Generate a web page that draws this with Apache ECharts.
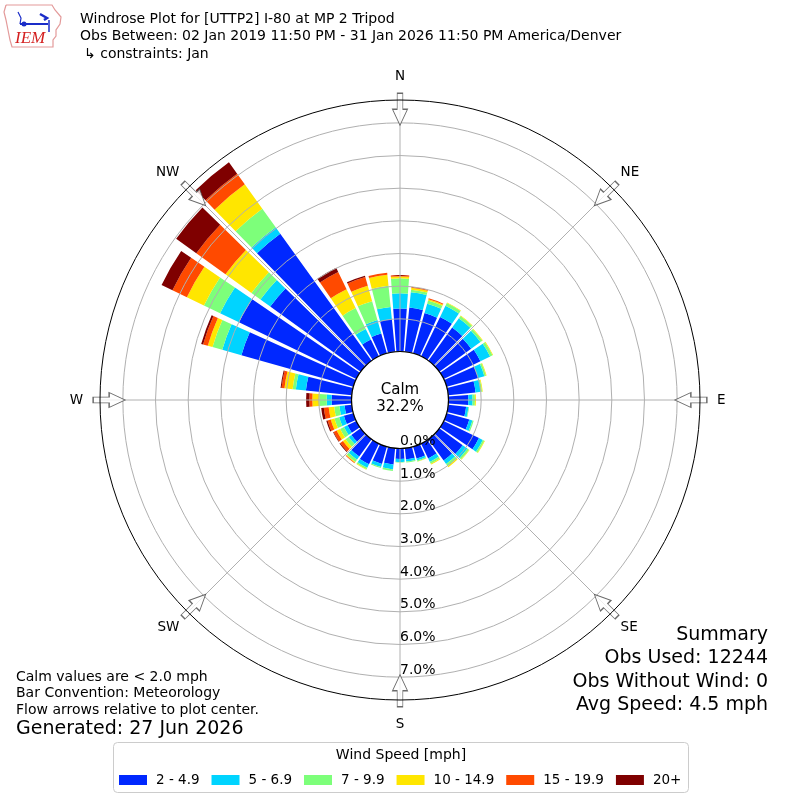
<!DOCTYPE html>
<html><head><meta charset="utf-8">
<script src="https://cdn.jsdelivr.net/npm/echarts@6/dist/echarts.min.js"></script>
<style>html,body{margin:0;padding:0;background:#fff}#c{width:800px;height:800px}</style>
</head><body><div id="c"></div>
<script>
// ---- data (percent of observations) ----
const directions = [0,10,20,30,40,50,60,70,80,90,100,110,120,130,140,150,160,170,180,190,200,210,220,230,240,250,260,270,280,290,300,310,320,330,340,350];
const speedBins = ['2 - 4.9','5 - 6.9','7 - 9.9','10 - 14.9','15 - 19.9','20+'];
const binColors = ['#0028ff','#00d4ff','#7dff7a','#ffe600','#ff4a00','#7f0000'];
const speed2to4_9   = [1.32,1.36,1.28,1.34,1.25,1.20,1.25,1.00,0.84,0.61,0.55,0.72,1.20,0.88,0.80,0.50,0.38,0.34,0.32,0.50,0.55,0.70,0.65,0.35,0.30,0.30,0.22,0.61,1.41,3.56,3.99,3.41,4.79,0.57,0.63,1.00];
const speed5to6_9   = [0.46,0.47,0.30,0.38,0.35,0.35,0.33,0.20,0.16,0.13,0.07,0.10,0.13,0.18,0.13,0.12,0.06,0.07,0.09,0.15,0.10,0.12,0.12,0.10,0.12,0.15,0.16,0.15,0.31,0.61,0.64,0.37,0.24,0.36,0.43,0.38];
const speed7to9_9   = [0.46,0.08,0.10,0.09,0.08,0.07,0.08,0.05,0.04,0.07,0.02,0.04,0.05,0.06,0.08,0.06,0.03,0.03,0.02,0.05,0.03,0.05,0.08,0.12,0.13,0.15,0.16,0.23,0.10,0.31,0.55,0.34,0.70,0.71,0.60,0.65];
const speed10to14_9 = [0.06,0.06,0.04,0.02,0.02,0.02,0.02,0.02,0.02,0.03,0.00,0.00,0.02,0.02,0.04,0.03,0.01,0.00,0.00,0.00,0.00,0.02,0.03,0.10,0.12,0.12,0.17,0.21,0.25,0.15,0.58,0.98,0.92,0.64,0.49,0.34];
const speed15to19_9 = [0.04,0.03,0.03,0.00,0.00,0.00,0.00,0.00,0.00,0.00,0.00,0.00,0.00,0.00,0.00,0.00,0.00,0.00,0.00,0.00,0.00,0.00,0.02,0.10,0.10,0.10,0.15,0.09,0.09,0.15,0.49,1.10,0.40,0.59,0.28,0.06];
const speed20plus   = [0.00,0.00,0.00,0.00,0.00,0.00,0.00,0.00,0.00,0.00,0.00,0.00,0.00,0.00,0.00,0.00,0.00,0.00,0.00,0.00,0.00,0.00,0.00,0.03,0.02,0.04,0.08,0.10,0.03,0.06,0.37,0.76,0.43,0.14,0.04,0.00];
const binValues = [speed2to4_9, speed5to6_9, speed7to9_9, speed10to14_9, speed15to19_9, speed20plus];
const compassNames = ['N','NE','E','SE','S','SW','W','NW'];
const compassDegrees = [0,45,90,135,180,225,270,315];
const radiusMax = 7.7;
const radiusTicks = [0,1,2,3,4,5,6,7];
const calmPercent = '32.2%';
const titleLines = ['Windrose Plot for [UTTP2] I-80 at MP 2 Tripod','Obs Between: 02 Jan 2019 11:50 PM - 31 Jan 2026 11:50 PM America/Denver','\u21b3 constraints: Jan'];
const footLeft = ['Calm values are < 2.0 mph','Bar Convention: Meteorology','Flow arrows relative to plot center.'];
const generated = 'Generated: 27 Jun 2026';
const summaryLines = ['Summary','Obs Used: 12244','Obs Without Wind: 0','Avg Speed: 4.5 mph'];

const FONT = 'DejaVu Sans';
const chart = echarts.init(document.getElementById('c'), null, {renderer:'canvas'});

const polarBase = {center:[400,400], radius:[48.5,300]};
const barSeries = speedBins.map((name,i)=>({
  name, type:'bar', coordinateSystem:'polar', polarIndex:0, stack:'rose',
  data: binValues[i], barCategoryGap:'15%',
  itemStyle:{color:binColors[i]}, z:2, silent:true
}));

const arrowPath = 'path://M8,32 L0,16 L5,16 L5,0 L11,0 L11,16 L16,16 Z';
const arrowSeries = {
  type:'scatter', coordinateSystem:'polar', polarIndex:1, z:8, silent:true,
  symbol: arrowPath, symbolSize:[15,32],
  itemStyle:{color:'#ffffff', borderColor:'#444', borderWidth:1},
  data: compassDegrees.map(d=>({value:[7.42,(d+180)%360], symbolRotate:-d}))
};

function txt(text,x,y,size,align,extra){
  return Object.assign({type:'text', z:20, style:{text, x, y, font:size+'px "'+FONT+'"', fill:'#000', textAlign:align||'left', textVerticalAlign:'middle'}}, extra||{});
}
const graphics = [];
titleLines.forEach((t,i)=>graphics.push(txt(t, i===2?84:80, 19+i*17.5, 14)));
footLeft.forEach((t,i)=>graphics.push(txt(t, 16, 677+i*16.5, 14)));
graphics.push(txt(generated,16,729,19));
summaryLines.forEach((t,i)=>graphics.push(txt(t, 768, 635+i*23.5, 19, 'right')));
graphics.push(txt('Calm',400,390,15,'center'));
graphics.push(txt(calmPercent,400,407,15,'center'));
// legend box
graphics.push({type:'rect', z:1, shape:{x:113.5,y:742.5,width:575,height:50,r:4}, style:{fill:'#fff',stroke:'#cccccc',lineWidth:1}});
graphics.push(txt('Wind Speed [mph]',401,755,14,'center'));
// logo
graphics.push({type:'polyline', z:5, shape:{points:[[6,5],[52,5],[55,10],[61,17],[60,24],[56,30],[56,36],[53,40],[53,47],[12,47],[10,40],[8,30],[6,20],[4,12],[6,5]]}, style:{stroke:'#e39a9a',lineWidth:1.2,fill:null}});
graphics.push({type:'polyline', z:6, shape:{points:[[20,24],[48,24]]}, style:{stroke:'#1a2cc8',lineWidth:2}});
graphics.push({type:'polyline', z:6, shape:{points:[[18,12],[21,18],[20,24]]}, style:{stroke:'#1a2cc8',lineWidth:1.2}});
graphics.push({type:'polyline', z:6, shape:{points:[[40,14],[47,18],[44,20]]}, style:{stroke:'#1a2cc8',lineWidth:2.5}});
graphics.push({type:'polyline', z:6, shape:{points:[[49,20],[49,32]]}, style:{stroke:'#1a2cc8',lineWidth:1.5}});
graphics.push({type:'circle', z:6, shape:{cx:24,cy:24,r:2.5}, style:{fill:'#1a2cc8'}});
graphics.push({type:'text', z:6, style:{text:'IEM', x:15, y:39, font:'italic 17px "Liberation Serif"', fill:'#d42020', textVerticalAlign:'middle'}});

const compassLabel = (v, wantDiagonal) => {
  if (v >= 360) return '';
  const d = (v + 180) % 360;
  const isDiag = d % 90 !== 0;
  return isDiag === wantDiagonal ? compassNames[d / 45] : '';
};

const option = {
  backgroundColor:'#fff',
  animation:false,
  polar:[polarBase, polarBase, {center:[400,400], radius:[0,48.5]}, {center:[400,400], radius:[0,300]}],
  angleAxis:[
    {polarIndex:0, type:'category', data:directions, startAngle:95, clockwise:true, boundaryGap:true,
     axisLine:{show:false}, axisTick:{show:false}, axisLabel:{show:false}, splitLine:{show:false}},
    {polarIndex:1, type:'value', min:0, max:360, interval:45, startAngle:-90, clockwise:true, z:4,
     axisLine:{show:false}, axisTick:{show:false},
     axisLabel:{show:true, margin:17, fontSize:13.5, fontFamily:FONT, color:'#000',
       formatter:v=> compassLabel(v,false)},
     splitLine:{show:true, lineStyle:{color:'#b0b0b0', width:1}}},
    {polarIndex:2, type:'value', min:0, max:360, z:9,
     axisLine:{show:true, lineStyle:{color:'#000', width:1.2}}, axisTick:{show:false}, axisLabel:{show:false}, splitLine:{show:false}},
    {polarIndex:3, type:'value', min:0, max:360, interval:45, startAngle:-90, clockwise:true, z:9,
     axisLine:{show:true, lineStyle:{color:'#000', width:1}}, axisTick:{show:false},
     axisLabel:{show:true, margin:12, fontSize:13.5, fontFamily:FONT, color:'#000',
       formatter:v=> compassLabel(v,true)},
     splitLine:{show:false}}
  ],
  radiusAxis:[
    {polarIndex:0, type:'value', min:0, max:radiusMax, show:false},
    {polarIndex:1, type:'value', min:0, max:radiusMax, interval:1, z:7,
     axisLine:{show:false}, axisTick:{show:false},
     axisLabel:{show:true, fontSize:14, fontFamily:FONT, color:'#000', margin:0, align:'left', verticalAlign:'bottom',
       formatter:v=> radiusTicks.indexOf(v)>=0 ? v.toFixed(1)+'%' : ''},
     splitLine:{show:true, lineStyle:{color:['#b0b0b0','#b0b0b0','#b0b0b0','#b0b0b0','#b0b0b0','#b0b0b0','#b0b0b0','#b0b0b0','rgba(0,0,0,0)'], width:1}}},
    {polarIndex:2, type:'value', min:0, max:1, show:false},
    {polarIndex:3, type:'value', min:0, max:1, show:false}
  ],
  legend:{
    data:speedBins, left:114, top:768, padding:[5,5,5,5], itemWidth:28, itemHeight:10, itemGap:12, icon:'rect',
    textStyle:{fontSize:13.5, fontFamily:FONT, color:'#000', padding:[0,0,0,4]}, selectedMode:false, z:10
  },
  series:[...barSeries, arrowSeries],
  graphic:graphics
};
chart.setOption(option);
</script></body></html>
